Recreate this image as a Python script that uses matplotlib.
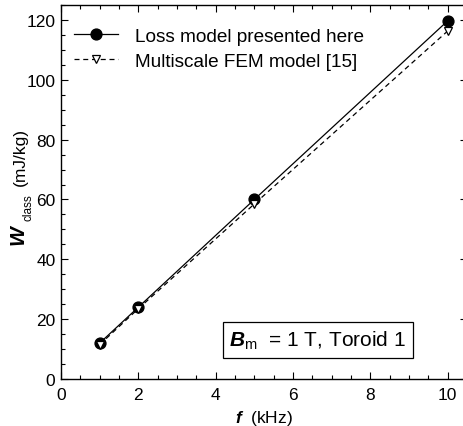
import matplotlib
matplotlib.use("Agg")
import matplotlib.pyplot as plt
from matplotlib.ticker import MultipleLocator

plt.rcParams['font.family'] = ['Liberation Sans', 'DejaVu Sans']
plt.rcParams['mathtext.fontset'] = 'custom'
plt.rcParams['mathtext.rm'] = 'Liberation Sans'
plt.rcParams['mathtext.it'] = 'Liberation Sans:italic'
plt.rcParams['mathtext.bf'] = 'Liberation Sans:bold'
plt.rcParams['mathtext.bfit'] = 'Liberation Sans:bold:italic'

freq = [1, 2, 5, 10]
loss_model = [12, 24, 60, 119.7]
fem_model = [11.5, 23.5, 58.5, 116.3]
labels = ["Loss model presented here", "Multiscale FEM model [15]"]

W, H = 464, 427
fig = plt.figure(figsize=(W/100, H/100), dpi=100)
ax = fig.add_axes([61/W, 47/H, 406/W, 374/H])

ax.plot(freq, loss_model, '-', color='black', lw=0.9, marker='o', ms=7.8,
        mfc='black', mec='black', label=labels[0])
ax.plot(freq, fem_model, '--', color='black', lw=0.9, dashes=(4, 3), marker='v', ms=5.8,
        mfc='white', mec='black', mew=0.9, label=labels[1])

ax.set_xlim(0, 10.5)
ax.set_ylim(0, 125)
ax.xaxis.set_major_locator(MultipleLocator(2))
ax.xaxis.set_minor_locator(MultipleLocator(0.5))
ax.yaxis.set_major_locator(MultipleLocator(20))
ax.yaxis.set_minor_locator(MultipleLocator(5))
ax.tick_params(which='both', direction='in', top=True, right=True, labelsize=12.5)
ax.tick_params(which='major', length=5, width=0.8, pad=4)
ax.tick_params(which='minor', length=3, width=0.8)
ax.tick_params(axis='x', pad=6)
for s in ax.spines.values():
    s.set_linewidth(1.0)

ax.set_xlabel(r'$\mathbfit{f}$  (kHz)', fontsize=12.5, labelpad=4)

# y label built from pieces (bold-italic W, small subscript, unit)
fig.text(17.5/W, 1 - 235/H, 'W', rotation=90, ha='center', va='center',
         fontsize=15, fontweight='bold', fontstyle='italic')
fig.text(28.5/W, 1 - 207.5/H, 'class', rotation=90, ha='center', va='center',
         fontsize=8.5)
fig.text(20/W, 1 - 157/H, '(mJ/kg)', rotation=90, ha='center', va='center',
         fontsize=12.5)

leg = ax.legend(loc='upper left', bbox_to_anchor=(0.0, 0.975), frameon=False,
                fontsize=13.7, handlelength=2.3,
                borderaxespad=0.3, handletextpad=0.9, labelspacing=0.4)

ax.text(0.415, 0.105, r'$\mathbfit{B}_{\mathrm{m}}$  = 1 T, Toroid 1', transform=ax.transAxes,
        fontsize=15, ha='left', va='center',
        bbox=dict(boxstyle='square,pad=0.33', fc='white', ec='black', lw=0.9))

fig.savefig('out.png', dpi=100)
